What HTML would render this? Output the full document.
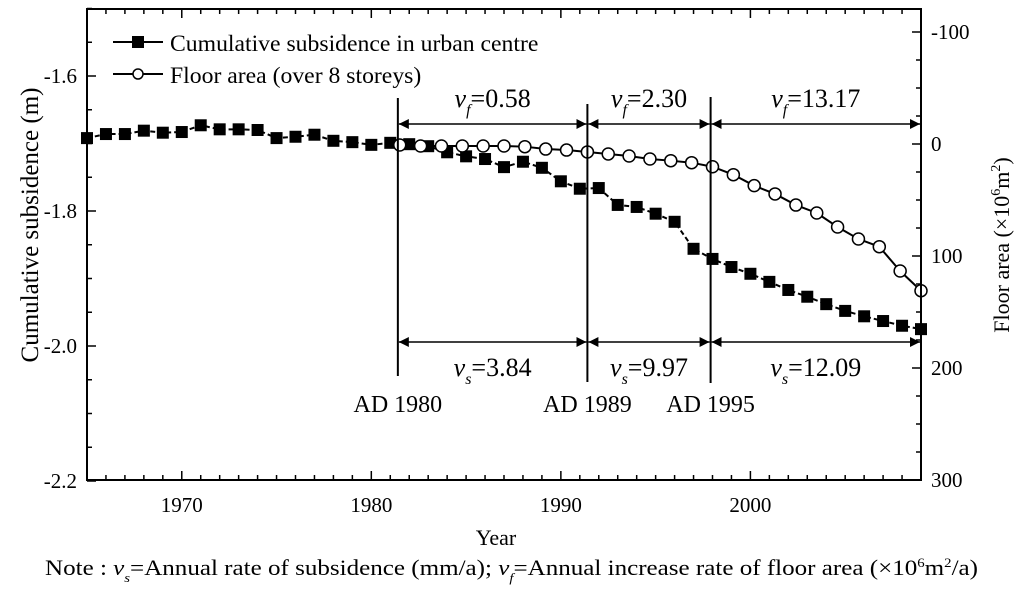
<!DOCTYPE html>
<html><head><meta charset="utf-8">
<style>
html,body{margin:0;padding:0;background:#fff;}
svg{display:block;font-family:"Liberation Serif",serif;}
</style></head>
<body>
<svg id="chart" width="1024" height="592" viewBox="0 0 1024 592" xmlns="http://www.w3.org/2000/svg">
<defs>
<marker id="ah" viewBox="0 0 10 10" refX="10" refY="5" markerWidth="10" markerHeight="10" markerUnits="userSpaceOnUse" orient="auto-start-reverse"><path d="M0,0 L10,5 L0,10 z" fill="#000"/></marker>
</defs>
<g id="grid-layer"></g>
<g id="marks"></g>
<g id="annot"></g>
<rect x="87" y="9" width="834" height="471" fill="none" stroke="#000" stroke-width="2"/>
<g>
 <line x1="113" y1="42" x2="163" y2="42" stroke="#000" stroke-width="2"/>
 <rect x="132" y="36" width="12" height="12" fill="#000"/>
 <text x="170" y="51" font-size="23.7">Cumulative subsidence in urban centre</text>
 <line x1="113" y1="74" x2="163" y2="74" stroke="#000" stroke-width="2"/>
 <circle cx="138" cy="74" r="5" fill="#fff" stroke="#000" stroke-width="1.5"/>
 <text x="170" y="83" font-size="23.7">Floor area (over 8 storeys)</text>
</g>
<text transform="translate(38,225) rotate(-90)" text-anchor="middle" font-size="25">Cumulative subsidence (m)</text>
<text transform="translate(1009,245) rotate(-90)" text-anchor="middle" font-size="22">Floor area (×10<tspan font-size="14" dy="-9">6</tspan><tspan dy="9">m</tspan><tspan font-size="14" dy="-9">2</tspan><tspan dy="9">)</tspan></text>
<text x="496" y="545" text-anchor="middle" font-size="22">Year</text>
<text x="45" y="575" font-size="22" textLength="933" lengthAdjust="spacingAndGlyphs">Note : <tspan font-style="italic">v</tspan><tspan font-size="13" font-style="italic" dy="7">s</tspan><tspan dy="-7">=Annual rate of  subsidence (mm/a);  </tspan><tspan font-style="italic">v</tspan><tspan font-size="13" font-style="italic" dy="7">f</tspan><tspan dy="-7">=Annual increase rate of  floor area (×10</tspan><tspan font-size="13" dy="-8">6</tspan><tspan dy="8">m</tspan><tspan font-size="13" dy="-8">2</tspan><tspan dy="8">/a)</tspan></text>
</svg>
<script>
const years = [1965,1966,1967,1968,1969,1970,1971,1972,1973,1974,1975,1976,1977,1978,1979,1980,1981,1982,1983,1984,1985,1986,1987,1988,1989,1990,1991,1992,1993,1994,1995,1996,1997,1998,1999,2000,2001,2002,2003,2004,2005,2006,2007,2008,2009];
const subsidence = [-1.692,-1.686,-1.686,-1.681,-1.684,-1.683,-1.673,-1.679,-1.679,-1.680,-1.692,-1.690,-1.687,-1.696,-1.698,-1.702,-1.699,-1.701,-1.704,-1.713,-1.719,-1.723,-1.735,-1.727,-1.736,-1.756,-1.767,-1.766,-1.791,-1.794,-1.804,-1.816,-1.856,-1.871,-1.883,-1.893,-1.905,-1.917,-1.927,-1.938,-1.948,-1.956,-1.963,-1.970,-1.975];
const floorYears = [1981.5,1982.6,1983.7,1984.8,1985.9,1987.0,1988.1,1989.2,1990.3,1991.4,1992.5,1993.6,1994.7,1995.8,1996.9,1998.0,1999.1,2000.2,2001.3,2002.4,2003.5,2004.6,2005.7,2006.8,2007.9,2009.0];
const floorArea = [0.9,1.8,1.8,1.8,1.8,1.8,2.4,4.5,5.4,7.1,8.9,10.7,13.4,14.9,16.7,20.3,27.4,37.2,44.6,54.5,61.6,74.1,84.8,91.7,113.4,131];
const xTicks = [1970,1980,1990,2000];
const yLeftTicks = [-1.6,-1.8,-2.0,-2.2];
const yRightTicks = [-100,0,100,200,300];
const dividerYears = [1981.4,1991.4,1997.9,2009];
const dividerLabels = ["AD 1980","AD 1989","AD 1995"];
const vfValues = ["0.58","2.30","13.17"];
const vsValues = ["3.84","9.97","12.09"];

const L=87,R=921,T=9,B=480;
const X0=1965,X1=2009;
const x = v => L + (v-X0)/(X1-X0)*(R-L);
const yL = v => 76 + (-1.6 - v)*675;
const yR = v => 144 + v*1.12;
const NS="http://www.w3.org/2000/svg";
function mk(tag, attrs, parent){const e=document.createElementNS(NS,tag);for(const k in attrs)e.setAttribute(k,attrs[k]);parent.appendChild(e);return e;}
const grid=document.getElementById('grid-layer'), marks=document.getElementById('marks'), annot=document.getElementById('annot');

for(let yr=1966; yr<=2008; yr++){
  const len = (yr%10===0)?9:5;
  let t=mk('line',{x1:x(yr),x2:x(yr),y1:B,y2:B-len,stroke:'#000','stroke-width':1.5},grid);
  
  
  let t2=mk('line',{x1:x(yr),x2:x(yr),y1:T,y2:T+len,stroke:'#000','stroke-width':1.5},grid);
  
  
}
xTicks.forEach(v=>{
  let t=mk('text',{x:x(v),y:B+32,'text-anchor':'middle','font-size':21},grid);
  t.textContent=v;
  
  
});
for(let i=0;i<=14;i++){
  const v=-1.5-i*0.05;
  const major = i%4===2;
  let t=mk('line',{x1:L,x2:L+(major?9:5),y1:yL(v),y2:yL(v),stroke:'#000','stroke-width':1.5},grid);
  
  
}
yLeftTicks.forEach(v=>{
  let t=mk('text',{x:L-10,y:yL(v)+7,'text-anchor':'end','font-size':21},grid);
  t.textContent=v.toFixed(1);
  
  
});
for(let v=-100; v<=300; v+=25){
  const major = v%100===0;
  let t=mk('line',{x1:R,x2:R-(major?9:5),y1:yR(v),y2:yR(v),stroke:'#000','stroke-width':1.5},grid);
  
  
}
yRightTicks.forEach(v=>{
  let t=mk('text',{x:R+10,y:yR(v)+7,'font-size':21},grid);
  t.textContent=v;
  
  
});

let p1=mk('polyline',{points:years.map((yr,i)=>x(yr)+','+yL(subsidence[i])).join(' '),fill:'none',stroke:'#000','stroke-width':2,'stroke-dasharray':'5 3'},marks);


let p2=mk('polyline',{points:floorYears.map((yr,i)=>x(yr)+','+yR(floorArea[i])).join(' '),fill:'none',stroke:'#000','stroke-width':2},marks);


years.forEach((yr,i)=>{
  let r=mk('rect',{x:x(yr)-6,y:yL(subsidence[i])-6,width:12,height:12,fill:'#000'},marks);
  
  
});
floorYears.forEach((yr,i)=>{
  let c=mk('circle',{cx:x(yr),cy:yR(floorArea[i]),r:6,fill:'#fff',stroke:'#000','stroke-width':1.5},marks);
  
  
});

const tops=[98,104,97], bots=[376,382,383];
for(let i=0;i<3;i++){
  const xv=x(dividerYears[i]);
  let l=mk('line',{x1:xv,x2:xv,y1:tops[i],y2:bots[i],stroke:'#000','stroke-width':2},annot);
  
  
  let t=mk('text',{x:xv,y:412,'text-anchor':'middle','font-size':24},annot);
  t.textContent=dividerLabels[i];
  
  
}
for(let i=0;i<3;i++){
  const a=x(dividerYears[i]), b=x(dividerYears[i+1]), cx=(a+b)/2;
  [[124,'vf-arrow'],[342,'vs-arrow']].forEach(([yy,nm])=>{
    let l=mk('line',{x1:a+1,x2:b-1,y1:yy,y2:yy,stroke:'#000','stroke-width':1.5,'marker-start':'url(#ah)','marker-end':'url(#ah)'},annot);
    
    
  });
  let t=mk('text',{x:cx,y:107,'text-anchor':'middle','font-size':26},annot);
  t.innerHTML='<tspan font-style="italic">v</tspan><tspan font-size="16" font-style="italic" dy="8">f</tspan><tspan dy="-8">='+vfValues[i]+'</tspan>';
  
  
  let t2=mk('text',{x:cx,y:376,'text-anchor':'middle','font-size':26},annot);
  t2.innerHTML='<tspan font-style="italic">v</tspan><tspan font-size="16" font-style="italic" dy="8">s</tspan><tspan dy="-8">='+vsValues[i]+'</tspan>';
  
  
}
</script>
</body></html>
